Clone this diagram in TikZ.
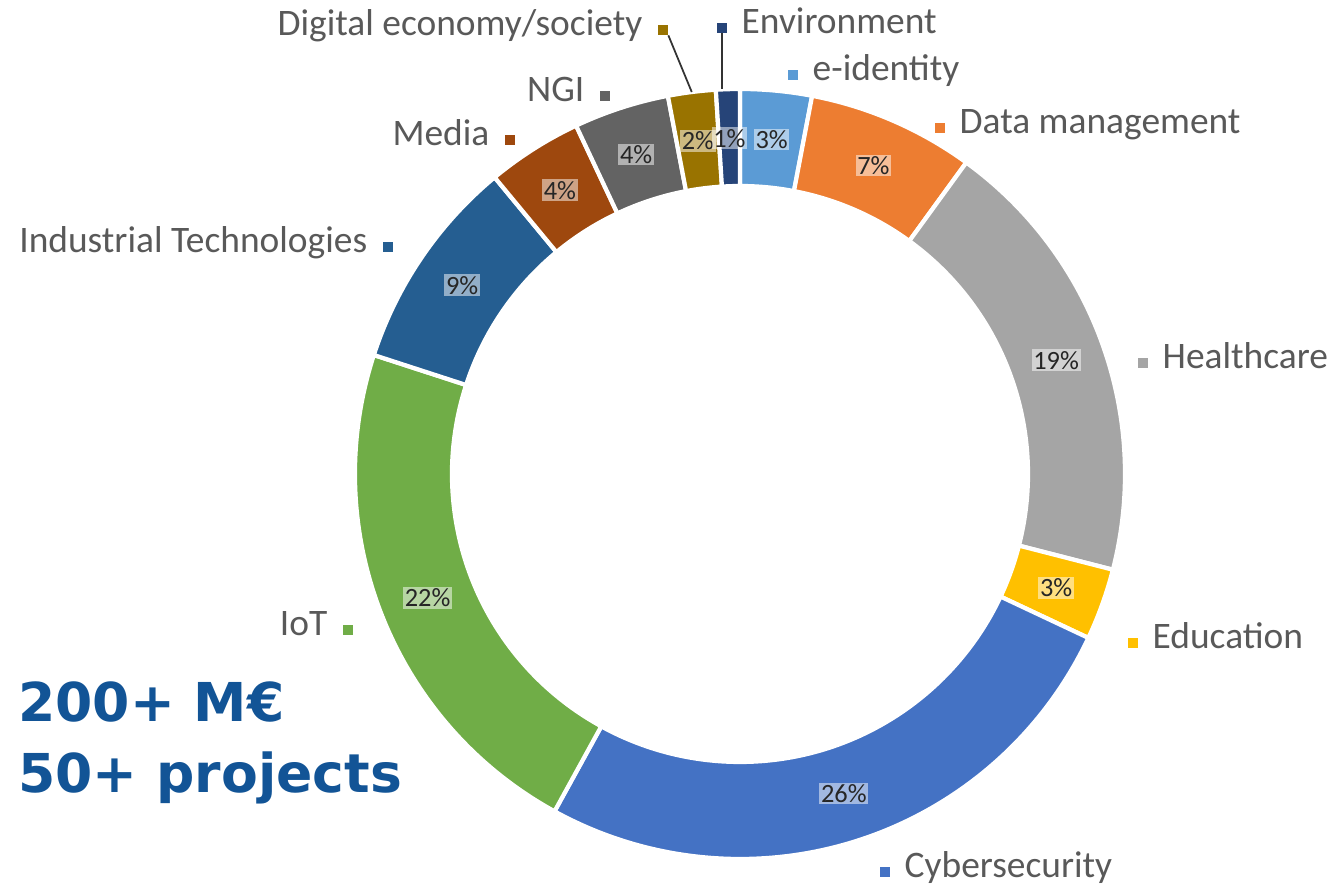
\documentclass[tikz,border=0pt]{standalone}
\usepackage{fontspec}
\setmainfont{Carlito}
\newfontfamily\headfont{DejaVu Sans}
\usetikzlibrary{positioning}

\definecolor{eid}{HTML}{5B9BD5}
\definecolor{dm}{HTML}{ED7D31}
\definecolor{hc}{HTML}{A5A5A5}
\definecolor{edu}{HTML}{FFC000}
\definecolor{cyb}{HTML}{4472C4}
\definecolor{iot}{HTML}{70AD47}
\definecolor{ind}{HTML}{255E91}
\definecolor{med}{HTML}{9E480E}
\definecolor{ngi}{HTML}{636363}
\definecolor{dig}{HTML}{997300}
\definecolor{env}{HTML}{264478}
\definecolor{labgray}{HTML}{595959}
\definecolor{headblue}{RGB}{18,84,150}

\tikzset{
  catlab/.style={text=labgray, font=\fontsize{21.3}{25}\selectfont, inner sep=0pt,
    text height=0.64em, text depth=0pt},
  keybox/.style={fill=#1, minimum size=0.2cm, inner sep=0pt},
  pct/.style={font=\fontsize{15}{17}\selectfont, text=black!85, fill=white,
    fill opacity=0.5, text opacity=1, inner sep=1pt},
  leader/.style={draw=black!80, line width=1pt},
  headtxt/.style={text=headblue, font=\headfont\bfseries\fontsize{30.5}{36}\selectfont,
    inner sep=0pt}
}

\begin{document}
\begin{tikzpicture}[x=0.02cm,y=0.02cm]
\useasboundingbox (0,0) rectangle (1330,889);

% doughnut, clockwise from the top
\begin{scope}[shift={(740,415)}]
\xdef\angA{90}
\foreach \p/\c [count=\i] in {3/eid, 7/dm, 19/hc, 3/edu, 26/cyb, 22/iot, 9/ind, 4/med, 4/ngi, 2/dig, 1/env} {
	\pgfmathsetmacro\angB{\angA-3.6*\p}
	\pgfmathsetmacro\angM{\angA-1.8*\p}
	\fill[\c, draw=white, line width=2.4pt] (\angA:385) arc[start angle=\angA, end angle=\angB, radius=385]
		-- (\angB:288) arc[start angle=\angB, end angle=\angA, radius=288] -- cycle;
	\coordinate (o\i) at (\angM:385);
	\node[pct] (p\i) at (\angM:336) {\p\%};
	\xdef\angA{\angB}
}
\end{scope}

% legend on the right
\node[keybox=eid] (eidkey) at (793,814) {};
\node[catlab, right=0.28cm of eidkey] (eidlab) {e-identity};
\node[keybox=dm] (dmkey) at (940,761) {};
\node[catlab, right=0.28cm of dmkey] (dmlab) {Data management};
\node[keybox=hc] (hckey) at (1143,526) {};
\node[catlab, right=0.28cm of hckey] (hclab) {Healthcare};
\node[keybox=edu] (edukey) at (1133,246) {};
\node[catlab, right=0.28cm of edukey] (edulab) {Education};
\node[keybox=cyb] (cybkey) at (885,17) {};
\node[catlab, right=0.28cm of cybkey] (cyblab) {Cybersecurity};
\node[keybox=env] (envkey) at (722,861) {};
\node[catlab, right=0.28cm of envkey] (envlab) {Environment};

% legend on the left
\node[keybox=iot] (iotkey) at (348,259) {};
\node[catlab, left=0.3cm of iotkey] (iotlab) {IoT};
\node[keybox=ind] (indkey) at (388,642) {};
\node[catlab, left=0.3cm of indkey] (indlab) {Industrial Technologies};
\node[keybox=med] (medkey) at (510,749) {};
\node[catlab, left=0.3cm of medkey] (medlab) {Media};
\node[keybox=ngi] (ngikey) at (605,793) {};
\node[catlab, left=0.3cm of ngikey] (ngilab) {NGI};
\node[keybox=dig] (digkey) at (663,859) {};
\node[catlab, left=0.3cm of digkey] (diglab) {Digital economy/society};

% leader lines for the two thin slices
\draw[leader] (digkey.south east) -- (o10);
\draw[leader] (envkey.south) -- (envkey.south |- o11);

\node[headtxt, anchor=base west] (funds) at (18,167) {200+ M€};
\node[headtxt, anchor=base west] (projs) at (18,96) {50+ projects};
\end{tikzpicture}
\end{document}
